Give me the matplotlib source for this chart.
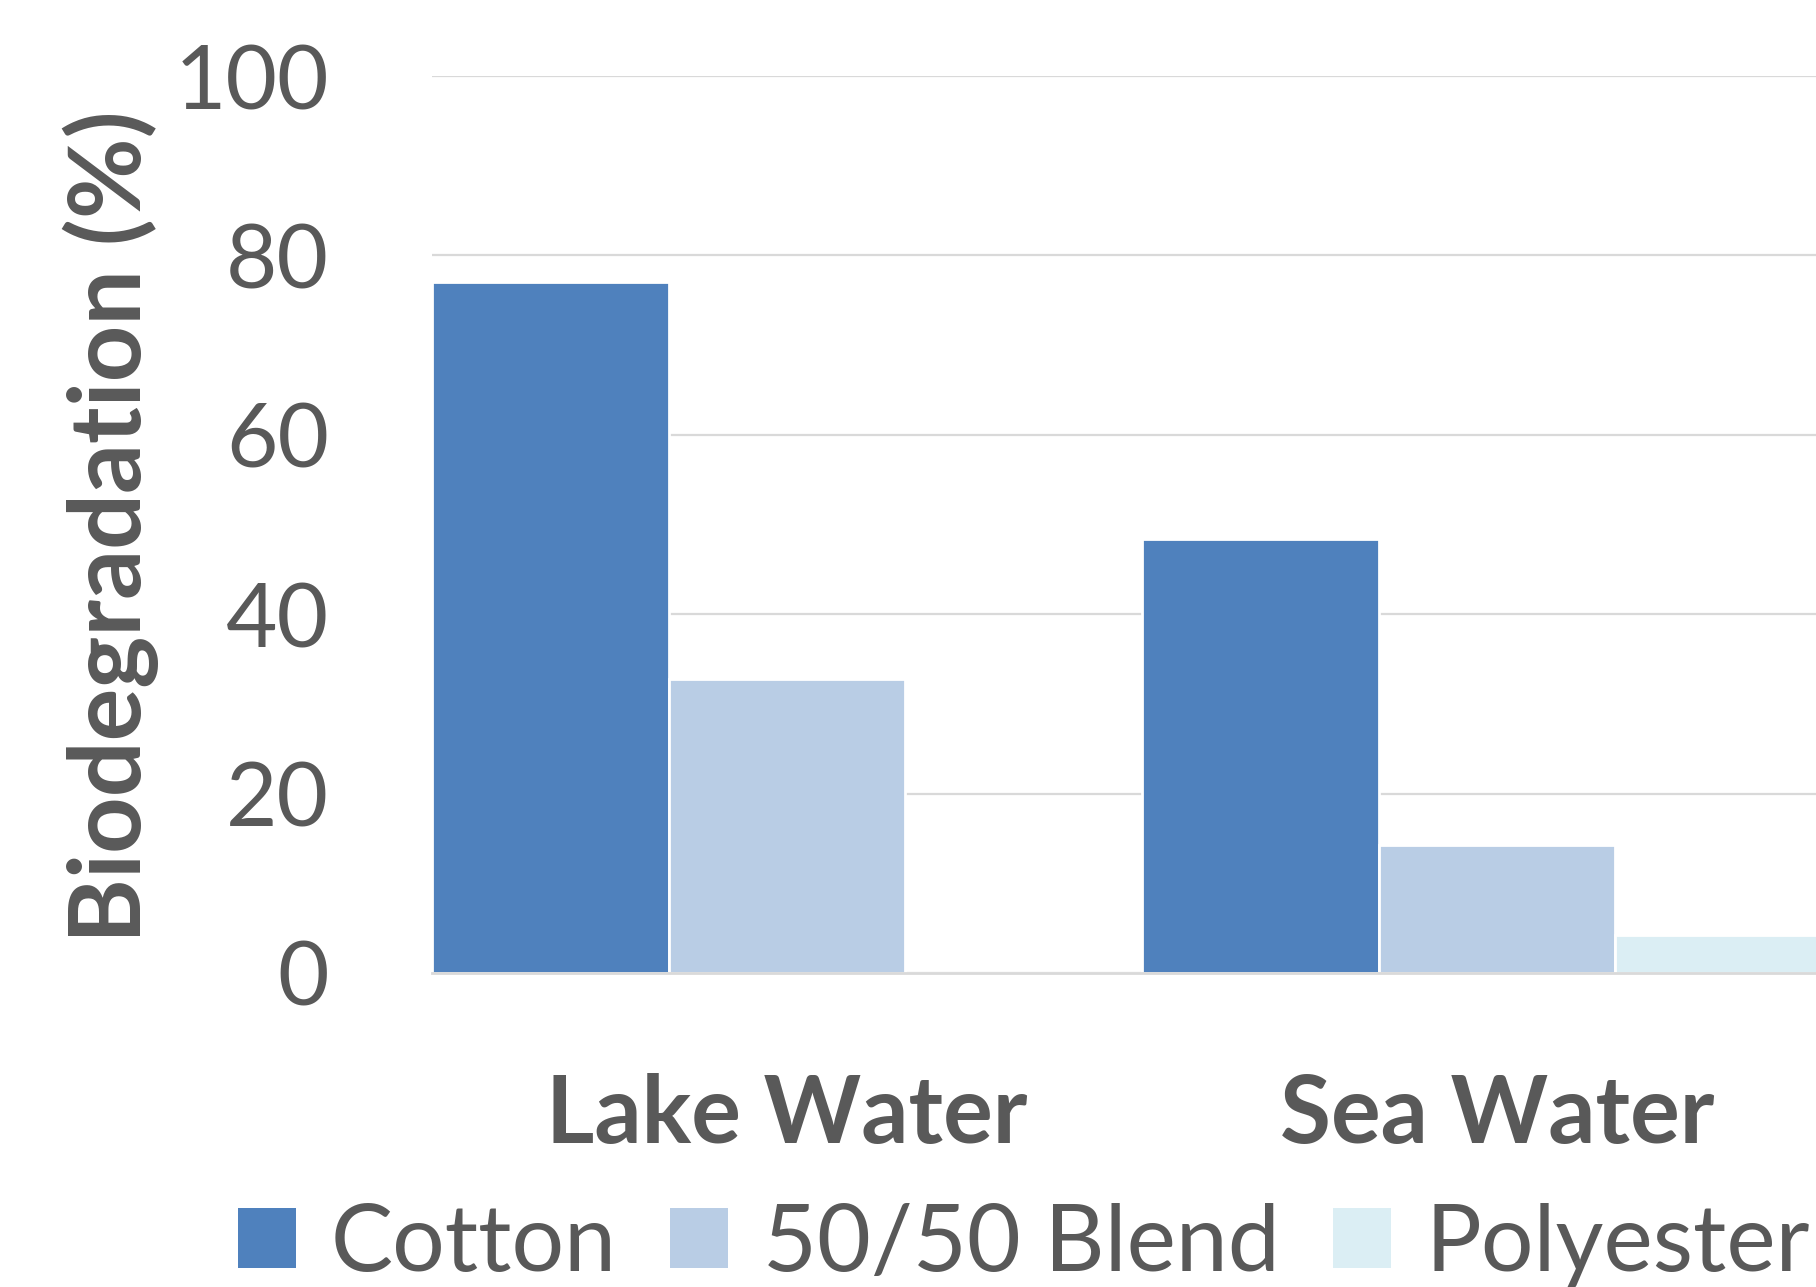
import numpy as np
import matplotlib
matplotlib.use("Agg")
import matplotlib.pyplot as plt
from matplotlib.patches import Patch

categories = ["Lake Water", "Sea Water"]
series_names = ["Cotton", "50/50 Blend", "Polyester"]
cotton = [77.0, 48.4]
blend = [32.8, 14.3]
polyester = [0.0, 4.2]
colors = ["#4F81BD", "#B9CDE5", "#DBEEF4"]
yticks = [0, 20, 40, 60, 80, 100]

txt = "#595959"
plt.rcParams["font.family"] = ["Lato", "DejaVu Sans"]

fig = plt.figure(figsize=(18.16, 12.87), dpi=100)
ax = fig.add_axes([432 / 1816, 1 - 973 / 1287, 1420 / 1816, (973 - 76) / 1287])

x = np.arange(len(categories))
w = 1 / 3
for i, (vals, name) in enumerate(zip([cotton, blend, polyester], series_names)):
    ax.bar(x + (i - 1) * w, vals, width=w, color=colors[i], edgecolor="white",
           linewidth=2, label=name, zorder=3)

ax.set_xlim(-0.5, 1.5)
ax.set_ylim(0, 100)
ax.set_yticks(yticks)
ax.set_yticklabels([str(t) for t in yticks], fontsize=64, color=txt)
ax.set_xticks(x)
ax.set_xticklabels(categories, fontsize=67, fontweight="bold", color=txt)
ax.tick_params(axis="y", length=0, pad=74)
ax.tick_params(axis="x", length=0, pad=72)
ax.grid(axis="y", color="#D9D9D9", linewidth=1.6, zorder=0)
for s in ["top", "right", "left"]:
    ax.spines[s].set_visible(False)
ax.spines["bottom"].set_color("#D9D9D9")
ax.spines["bottom"].set_linewidth(2)
ax.spines["bottom"].set_zorder(4)

fig.text(111 / 1816, 1 - 527 / 1287, "Biodegradation (%)", rotation=90,
         ha="center", va="center", fontsize=71, fontweight="bold", color=txt)

handles = [Patch(facecolor=c, edgecolor="none") for c in colors]
leg = fig.legend(handles, series_names, loc="center left",
                 bbox_to_anchor=(238 / 1816, 1 - 1245 / 1287), ncol=3,
                 frameon=False, fontsize=67, handlelength=0.62, handleheight=0.62,
                 handletextpad=0.38, columnspacing=0.57, borderaxespad=0, borderpad=0)
for t in leg.get_texts():
    t.set_color(txt)

fig.savefig("out.png", dpi=100)
